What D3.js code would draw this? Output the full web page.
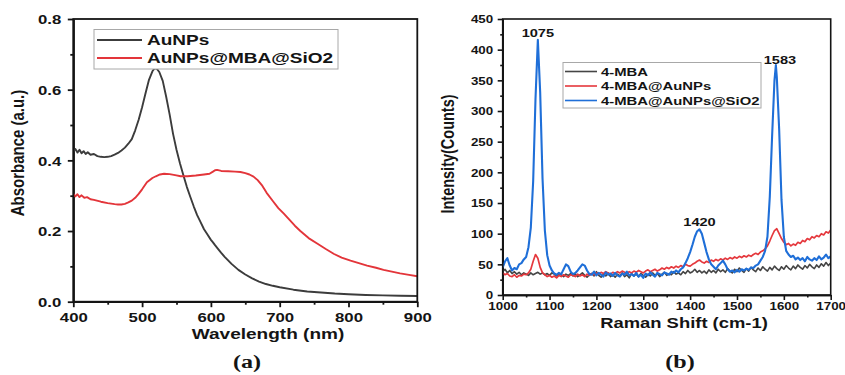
<!DOCTYPE html>
<html>
<head>
<meta charset="utf-8">
<script src="https://cdn.jsdelivr.net/npm/d3@7"></script>
<style>
  body { margin: 0; background: #fff; }
  svg { display: block; }
  text { font-family: "Liberation Sans", Arial, sans-serif; font-weight: bold; fill: #141414; }
</style>
</head>
<body>
<svg id="fig" width="845" height="375"></svg>
<script>
// ---------- (a) UV-Vis absorbance ----------
const wlAuNPs = [400,403,406,409,412,415,418,421,425,430,
  435,440,445,450,455,460,465,470,475,480,
  485,490,495,500,505,510,515,518,521,525,
  530,535,540,545,550,555,560,565,570,575,
  580,585,590,595,600,603,606,610,615,620,
  630,640,650,660,670,680,690,700,720,740,
  760,780,800,825,850,875,900];
const absAuNPs = [0.425,0.432,0.422,0.430,0.420,0.426,0.418,0.423,0.416,0.418,
  0.412,0.410,0.409,0.410,0.412,0.416,0.421,0.428,0.436,0.447,
  0.460,0.485,0.515,0.550,0.590,0.628,0.652,0.660,0.660,0.650,
  0.625,0.580,0.530,0.475,0.430,0.392,0.358,0.325,0.297,0.270,
  0.245,0.225,0.205,0.190,0.175,0.168,0.160,0.150,0.138,0.127,
  0.107,0.090,0.077,0.066,0.057,0.050,0.045,0.041,0.034,0.029,
  0.026,0.023,0.021,0.019,0.018,0.017,0.016];

const wlCoated = [400,403,406,409,412,416,420,425,430,440,
  450,460,465,470,475,480,485,490,495,500,
  507,515,520,526,532,540,548,556,566,578,
  590,598,603,606,609,615,625,635,643,650,
  656,662,668,674,681,690,698,706,714,722,
  730,742,755,767,779,790,803,815,827,840,
  851,863,875,888,900];
const absCoated = [0.305,0.298,0.304,0.296,0.301,0.294,0.296,0.290,0.288,0.283,
  0.279,0.276,0.275,0.275,0.277,0.281,0.286,0.294,0.305,0.318,
  0.338,0.350,0.355,0.360,0.362,0.361,0.358,0.355,0.355,0.357,
  0.360,0.362,0.368,0.372,0.373,0.370,0.369,0.368,0.367,0.364,
  0.360,0.354,0.344,0.330,0.308,0.285,0.265,0.249,0.232,0.215,
  0.200,0.180,0.164,0.149,0.135,0.125,0.116,0.109,0.102,0.096,
  0.090,0.085,0.080,0.076,0.072];

const uvLegend = ["AuNPs", "AuNPs@MBA@SiO2"];
const uvXTicks = [400, 500, 600, 700, 800, 900];
const uvYTicks = [0.0, 0.2, 0.4, 0.6, 0.8];

// ---------- (b) Raman spectra ----------
const ramanShift = d3.range(1000, 1701, 5);
const countsMBA = [38,42,36,40,35,38,34,37,33,36,
  34,32,36,33,35,37,34,36,33,35,
  32,36,34,31,35,33,30,34,32,35,
  31,34,30,33,36,32,29,33,35,31,
  38,32,29,34,31,36,30,33,29,34,
  31,36,30,33,28,35,31,34,30,35,
  32,29,34,31,36,32,35,30,34,37,
  32,35,33,38,34,36,33,38,35,40,
  36,38,42,37,40,36,39,35,41,37,
  40,36,42,38,41,37,43,39,36,42,
  38,44,40,37,43,39,45,41,38,44,
  40,46,42,39,45,41,47,43,40,46,
  42,48,44,41,47,43,49,45,42,48,
  44,50,46,43,49,45,51,47,53,48,
  52];
const countsAuNPs = [36,33,35,31,30,33,29,32,31,34,
  33,36,42,55,66,60,45,36,33,30,
  32,29,31,28,32,30,33,31,29,33,
  32,30,34,31,33,30,34,32,35,33,
  36,34,37,35,38,36,34,37,35,38,
  36,39,37,35,38,36,39,37,40,38,
  36,39,41,38,40,42,39,41,44,42,
  45,43,46,44,47,45,48,46,50,48,
  47,50,52,55,57,54,52,55,53,57,
  55,58,56,59,57,60,58,61,59,62,
  60,63,61,64,62,65,63,66,68,66,
  70,72,75,80,88,97,105,108,100,92,
  86,82,84,80,83,81,86,84,89,87,
  92,90,95,93,97,95,100,98,103,101,
  106];
// the SiO2-coated sample carries one extra point at the 1583 band maximum
const shiftSiO2 = [...ramanShift.slice(0, 117), 1583, ...ramanShift.slice(117)];
const countsSiO2 = [45,55,60,48,40,44,42,50,52,58,
  62,78,110,185,320,416,330,190,105,65,
  48,40,35,33,36,34,42,50,47,38,
  34,36,40,45,50,48,40,34,33,38,
  32,36,33,30,37,33,35,31,36,32,
  30,35,33,38,32,34,31,36,30,33,
  28,35,32,37,33,30,36,34,32,37,
  35,33,38,36,40,37,42,45,52,60,
  70,82,95,104,107,100,85,70,58,50,
  46,42,48,52,56,50,42,38,40,37,
  41,38,42,40,43,41,45,44,48,50,
  56,62,72,95,160,260,350,375,355,270,
  155,95,72,66,62,64,58,61,57,60,
  55,62,58,56,60,57,63,58,61,66,
  60,63];
const ramanLegend = ["4-MBA", "4-MBA@AuNPs", "4-MBA@AuNPs@SiO2"];
const peakShifts = [1075, 1420, 1583];
const ramanXTicks = [1000, 1100, 1200, 1300, 1400, 1500, 1600, 1700];
const ramanYTicks = [0, 50, 100, 150, 200, 250, 300, 350, 400, 450];

// ---------- drawing ----------
const SX = 1.27;            // horizontal glyph stretch used for every label
const svg = d3.select("#fig");
const ink = "#141414";

function label(g, x, y, str, size, anchor, family) {
  const t = g.append("text")
    .attr("transform", `translate(${x},${y}) scale(${SX},1)`)
    .attr("text-anchor", anchor || "start")
    .style("font-size", size + "px")
    .text(str);
  if (family) t.style("font-family", family);
  return t;
}
function vlabel(g, x, y, str, size) {
  return g.append("text")
    .attr("transform", `translate(${x},${y}) rotate(-90) scale(1,${SX})`)
    .attr("text-anchor", "middle")
    .style("font-size", size + "px")
    .text(str);
}
function styleAxis(sel, w) {
  sel.attr("font-family", null).attr("font-size", null);
  sel.selectAll("line").attr("stroke", ink).attr("stroke-width", w);
  sel.select(".domain").attr("stroke", ink).attr("stroke-width", w);
}

function panel(cfg) {
  const { x, y } = cfg;
  const g = svg.append("g");
  const [x0, x1] = x.range(), [y0, y1] = y.range();

  const clipId = "clip" + cfg.id;
  svg.append("clipPath").attr("id", clipId)
    .append("rect").attr("x", x0).attr("y", y1).attr("width", x1 - x0).attr("height", y0 - y1);

  // minor ticks
  g.append("g").attr("transform", `translate(0,${y0})`)
    .call(d3.axisBottom(x).tickValues(cfg.xMinor).tickSize(cfg.minorLen).tickSizeOuter(0).tickFormat(""))
    .call(s => styleAxis(s, cfg.axisW));
  g.append("g").attr("transform", `translate(${x0},0)`)
    .call(d3.axisLeft(y).tickValues(cfg.yMinor).tickSize(cfg.minorLen).tickSizeOuter(0).tickFormat(""))
    .call(s => styleAxis(s, cfg.axisW));

  // major ticks with labels
  const xa = g.append("g").attr("transform", `translate(0,${y0})`)
    .call(d3.axisBottom(x).tickValues(cfg.xTicks).tickSize(cfg.majorLen).tickSizeOuter(0).tickFormat(cfg.xFmt))
    .call(s => styleAxis(s, cfg.axisW));
  xa.selectAll("text")
    .attr("x", 0).attr("y", 0).attr("dy", null).attr("fill", ink)
    .attr("transform", `translate(0,${cfg.xLabOff}) scale(${SX},1)`)
    .style("font-size", cfg.tickFont + "px");

  const ya = g.append("g").attr("transform", `translate(${x0},0)`)
    .call(d3.axisLeft(y).tickValues(cfg.yTicks).tickSize(cfg.majorLen).tickSizeOuter(0).tickFormat(cfg.yFmt))
    .call(s => styleAxis(s, cfg.axisW));
  ya.selectAll("text")
    .attr("x", 0).attr("y", 0).attr("dy", null).attr("fill", ink)
    .attr("transform", `translate(${-cfg.yLabGap},${cfg.tickFont * 0.36}) scale(${SX},1)`)
    .style("font-size", cfg.tickFont + "px");

  // series
  const lines = g.append("g").attr("clip-path", `url(#${clipId})`);
  cfg.series.forEach(s => {
    lines.append("path")
      .attr("d", d3.line().x(d => x(d[0])).y(d => y(d[1]))(d3.zip(s.xs, s.ys)))
      .attr("fill", "none").attr("stroke", s.color)
      .attr("stroke-width", s.width).attr("stroke-linejoin", "round");
  });

  // frame
  g.append("rect").attr("x", x0).attr("y", y1).attr("width", x1 - x0).attr("height", y0 - y1)
    .attr("fill", "none").attr("stroke", ink).attr("stroke-width", cfg.frameW);
  return g;
}

// panel (a)
const xA = d3.scaleLinear().domain([400, 900]).range([73.3, 417.3]);
const yA = d3.scaleLinear().domain([0, 0.8]).range([301.7, 19]);
const colA = ["#3c3c3c", "#e3353a"];
const gA = panel({
  id: "A", x: xA, y: yA,
  xTicks: uvXTicks, yTicks: uvYTicks,
  xMinor: [450, 550, 650, 750, 850], yMinor: [0.1, 0.3, 0.5, 0.7],
  xFmt: d3.format("d"), yFmt: d3.format(".1f"),
  majorLen: 5.5, minorLen: 3, axisW: 1.8, frameW: 1.8,
  tickFont: 13.2, xLabOff: 19.8, yLabGap: 12,
  series: [
    { xs: wlAuNPs, ys: absAuNPs, color: colA[0], width: 1.9 },
    { xs: wlCoated, ys: absCoated, color: colA[1], width: 1.9 }
  ]
});
vlabel(gA, 24, 153, "Absorbance (a.u.)", 15);
label(gA, 268, 338.5, "Wavelength (nm)", 15, "middle");

// legend (a)
const legA = gA.append("g");
legA.append("rect").attr("x", 94).attr("y", 29.5).attr("width", 244).attr("height", 39.5)
  .attr("fill", "#fff").attr("stroke", "#a8a8a8").attr("stroke-width", 1);
uvLegend.forEach((name, i) => {
  const cy = 40 + i * 18;
  legA.append("line").attr("x1", 97).attr("x2", 142).attr("y1", cy).attr("y2", cy)
    .attr("stroke", colA[i]).attr("stroke-width", 1.8);
  label(legA, 147, cy + 5.3, name, 15, "start");
});

// panel (b)
const xB = d3.scaleLinear().domain([1000, 1700]).range([502.7, 830.7]);
const yB = d3.scaleLinear().domain([0, 450]).range([295, 19]);
const colB = ["#454545", "#e5383d", "#1f6fd8"];
const gB = panel({
  id: "B", x: xB, y: yB,
  xTicks: ramanXTicks, yTicks: ramanYTicks,
  xMinor: [1050, 1150, 1250, 1350, 1450, 1550, 1650],
  yMinor: [25, 75, 125, 175, 225, 275, 325, 375, 425],
  xFmt: d3.format("d"), yFmt: d3.format("d"),
  majorLen: 5, minorLen: 2.5, axisW: 1.6, frameW: 1.6,
  tickFont: 10.5, xLabOff: 15.3, yLabGap: 9.5,
  series: [
    { xs: ramanShift, ys: countsMBA, color: colB[0], width: 1.6 },
    { xs: ramanShift, ys: countsAuNPs, color: colB[1], width: 1.7 },
    { xs: shiftSiO2, ys: countsSiO2, color: colB[2], width: 2.1 }
  ]
});
vlabel(gB, 454, 154, "Intensity(Counts)", 14.5);
label(gB, 684, 328, "Raman Shift (cm-1)", 14.5, "middle");

// band labels above the SiO2 peaks
const peakLabelPos = { 1075: [0, 37], 1420: [0, 226], 1583: [4, 64] };
peakShifts.forEach(p => {
  const [dx, yy] = peakLabelPos[p];
  label(gB, xB(p) + dx, yy, String(p), 11.5, "middle");
});

// legend (b)
const legB = gB.append("g");
legB.append("rect").attr("x", 563).attr("y", 62.5).attr("width", 198).attr("height", 45.5)
  .attr("fill", "#fff").attr("stroke", "#a8a8a8").attr("stroke-width", 1);
ramanLegend.forEach((name, i) => {
  const cy = 71.5 + i * 14.5;
  legB.append("line").attr("x1", 565).attr("x2", 597).attr("y1", cy).attr("y2", cy)
    .attr("stroke", colB[i]).attr("stroke-width", 1.6);
  label(legB, 601, cy + 4.2, name, 11.7, "start");
});

// panel captions
label(svg, 247, 368, "(a)", 19, "middle", "'Liberation Serif', 'Times New Roman', serif");
label(svg, 680, 368, "(b)", 19, "middle", "'Liberation Serif', 'Times New Roman', serif");
</script>
</body>
</html>
